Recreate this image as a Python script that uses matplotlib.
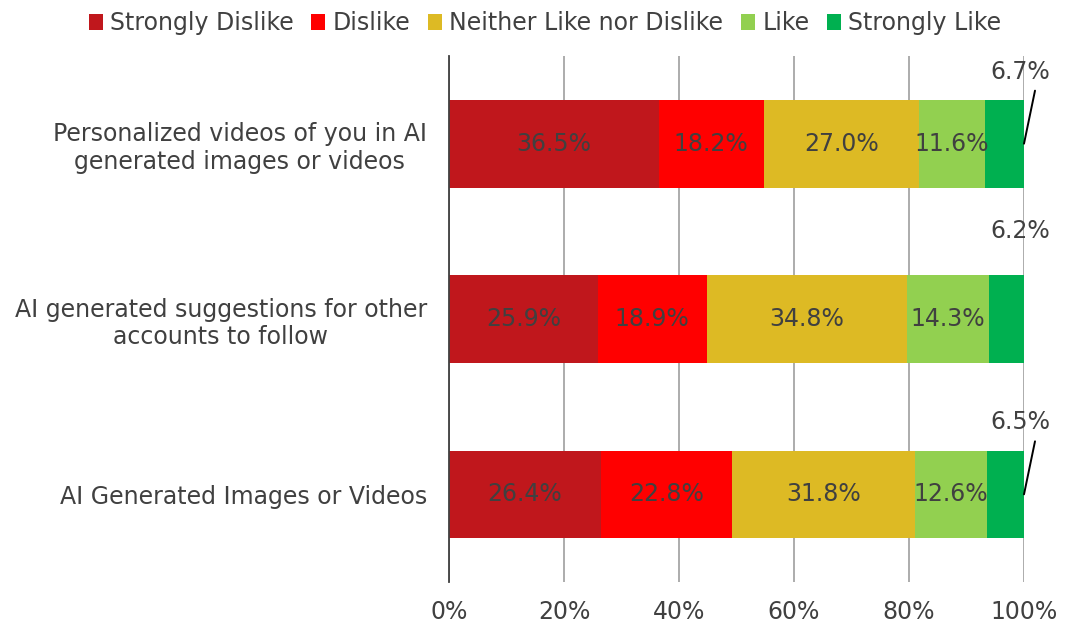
import matplotlib
matplotlib.use("Agg")
import matplotlib.pyplot as plt
from matplotlib.patches import Patch

categories = ["Personalized videos of you in AI\ngenerated images or videos",
              "AI generated suggestions for other\naccounts to follow",
              "AI Generated Images or Videos"]
series = ["Strongly Dislike", "Dislike", "Neither Like nor Dislike", "Like", "Strongly Like"]
strongly_dislike = [36.5, 25.9, 26.4]
dislike = [18.2, 18.9, 22.8]
neither = [27.0, 34.8, 31.8]
like = [11.6, 14.3, 12.6]
strongly_like = [6.7, 6.2, 6.5]
colors = ["#C0171C", "#FF0000", "#DDBA24", "#92D050", "#00B050"]
xticks = [0, 20, 40, 60, 80, 100]

values = [strongly_dislike, dislike, neither, like, strongly_like]

plt.rcParams['font.family'] = ['DejaVu Sans']
fig = plt.figure(figsize=(10.69, 6.30), dpi=100)
ax = fig.add_axes([449/1069, 1-582/630, (1024-449)/1069, (582-56)/630])

ypos = [0, 1, 2]
txtc = "#404040"
FS = 17

left = [0, 0, 0]
for vals, col in zip(values, colors):
    ax.barh(ypos, vals, left=left, height=0.5, color=col, zorder=3)
    left = [l + v for l, v in zip(left, vals)]

# data labels for the first four series
left = [0, 0, 0]
for i, vals in enumerate(values):
    for j, v in enumerate(vals):
        if i < 4:
            ax.text(left[j] + v / 2, j, f"{v:.1f}%", ha="center", va="center",
                    fontsize=FS, color=txtc, zorder=4)
    left = [l + v for l, v in zip(left, vals)]

# Strongly like labels above the bar ends
for j, v in enumerate(strongly_like):
    if j == 1:
        ax.text(99.4, j - 0.5, f"{v:.1f}%", ha="center", va="center",
                fontsize=FS, color=txtc, zorder=4)
    else:
        ax.text(99.4, j - 0.41, f"{v:.1f}%", ha="center", va="center",
                fontsize=FS, color=txtc, zorder=4)
        ax.annotate("", xy=(100, j), xytext=(11, 53), textcoords="offset pixels",
                    arrowprops=dict(arrowstyle="-", color="black", lw=1.4,
                                    shrinkA=0, shrinkB=0), zorder=5)

ax.set_xlim(0, 100)
ax.set_ylim(2.5, -0.5)
ax.set_xticks(xticks)
ax.set_xticklabels([f"{t}%" for t in xticks], fontsize=FS, color=txtc)
ax.set_yticks(ypos)
ax.set_yticklabels(categories, fontsize=FS, color=txtc, multialignment="center")
ax.tick_params(axis="both", length=0)
ax.tick_params(axis="x", pad=13)
ax.tick_params(axis="y", pad=16)
for s in ["top", "right", "bottom"]:
    ax.spines[s].set_visible(False)
ax.spines["left"].set_color("#404040")
ax.spines["left"].set_linewidth(1.3)
ax.spines["left"].set_zorder(5)
ax.xaxis.grid(True, color="#A6A6A6", linewidth=1.3, zorder=0)
ax.set_axisbelow(True)

handles = [Patch(facecolor=c, label=s) for c, s in zip(colors, series)]
fig.legend(handles=handles, loc="center", bbox_to_anchor=(545/1069, 1-23/630), ncol=5,
           frameon=False, fontsize=FS, handlelength=0.6, handleheight=0.65,
           handletextpad=0.3, columnspacing=0.75, labelcolor=txtc)

fig.savefig("out.png", dpi=100)
